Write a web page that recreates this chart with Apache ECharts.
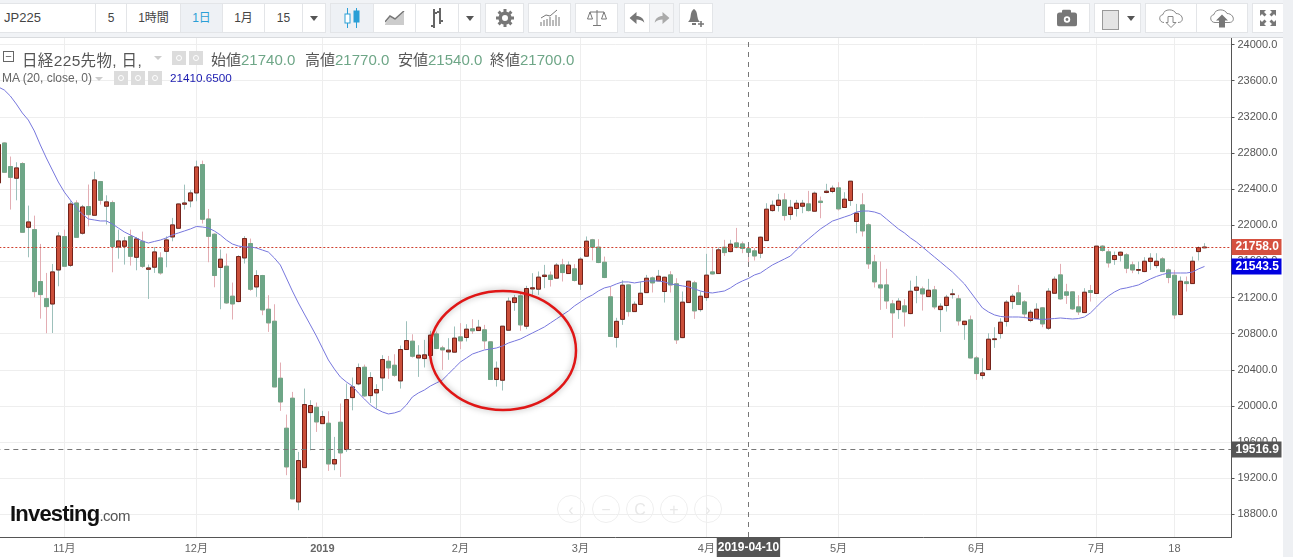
<!DOCTYPE html>
<html>
<head>
<meta charset="utf-8">
<title>日経225先物</title>
<script src="https://cdn.jsdelivr.net/npm/echarts@6/dist/echarts.min.js"></script>
<style>
  html, body { margin: 0; padding: 0; background: #fff; overflow: hidden; }
  body { width: 1293px; height: 557px; position: relative; font-family: 'Liberation Sans', 'Noto Sans CJK JP', sans-serif; color: #555; }
  #main { position: absolute; left: 0; top: 0; width: 1293px; height: 557px; }
  .toolbar { position: absolute; left: 0; top: 0; width: 1293px; height: 37px; background: #f1f3f6; border-bottom: 1px solid #d9dbde; }
  .btn { position: absolute; top: 3px; height: 28px; background: #fff; border: 1px solid #e3e5e8; box-sizing: content-box; text-align: center; line-height: 28px; font-size: 12px; color: #444; margin-left: -1px; }
  .btn.on { background: #eef1f5; }
  .btn svg { position: absolute; left: 50%; top: 50%; transform: translate(-50%, -50%); }
  .caret { display: inline-block; border-left: 4px solid transparent; border-right: 4px solid transparent; border-top: 5px solid #555; vertical-align: middle; }
  .strip { position: absolute; left: 1283px; top: 0; width: 10px; height: 557px; background: #eef0f3; }
  .legend { position: absolute; white-space: nowrap; }
  .legend b { font-weight: normal; color: #6ea687; }
  .ico { position: absolute; width: 14px; height: 14px; background: #dcdcdc; }
  .ico::after { content: ''; position: absolute; left: 4px; top: 4px; width: 4px; height: 4px; border: 1px solid #fff; border-radius: 50%; }
  .logo { position: absolute; left: 10px; top: 501px; font-weight: bold; font-size: 22px; letter-spacing: -0.8px; color: #111; white-space: nowrap; }
  .logo span { font-weight: normal; font-size: 15px; letter-spacing: -0.5px; color: #555; }
  .nav { position: absolute; top: 495px; width: 28px; height: 28px; border: 1px solid #efefef; border-radius: 50%; text-align: center; line-height: 27px; font-size: 16px; color: #e8e8e8; box-sizing: border-box; }
</style>
</head>
<body>
<div id="main"></div>

<div class="toolbar">
  <div class="btn" style="left:0;width:95px;text-align:left;text-indent:4px;font-size:13px">JP225</div>
  <div class="btn" style="left:96px;width:30px">5</div>
  <div class="btn" style="left:127px;width:53px">1時間</div>
  <div class="btn on" style="left:181px;width:41px;color:#2a9fd6">1日</div>
  <div class="btn" style="left:223px;width:41px">1月</div>
  <div class="btn" style="left:265px;width:37px">15</div>
  <div class="btn" style="left:303px;width:22px"><span class="caret"></span></div>

  <div class="btn on" style="left:331px;width:42px"><svg width="18" height="22"><path d="M4.5 1v20M13.5 1v20" stroke="#2a9fd6"/><rect x="2" y="7" width="5" height="9" fill="#fff" stroke="#2a9fd6"/><rect x="11" y="4" width="5" height="11" fill="#2a9fd6" stroke="#2a9fd6"/></svg></div>
  <div class="btn" style="left:374px;width:41px"><svg width="20" height="14"><path d="M0 13L5 6L10 9L19 1V14H0Z" fill="#ccc"/><path d="M0 11L5 5L10 8L19 0" stroke="#777" fill="none" stroke-width="1.5"/></svg></div>
  <div class="btn" style="left:416px;width:42px"><svg width="16" height="22"><path d="M5 2v19M2 19h3M5 6h3M11 1v16M8 5h3M11 14h3" stroke="#666" stroke-width="2" fill="none"/></svg></div>
  <div class="btn" style="left:459px;width:21px"><span class="caret"></span></div>

  <div class="btn" style="left:486px;width:37px"><svg width="18" height="18" viewBox="0 0 18 18"><circle cx="9" cy="9" r="4.8" fill="none" stroke="#777" stroke-width="3.6"/><path d="M9 0v3M9 15v3M0 9h3M15 9h3M2.6 2.6l2.1 2.1M13.3 13.3l2.1 2.1M2.6 15.4l2.1-2.1M13.3 4.7l2.1-2.1" stroke="#777" stroke-width="3"/></svg></div>
  <div class="btn" style="left:529px;width:41px"><svg width="20" height="18"><path d="M1 17v-4M4 17v-6M7 17v-7M10 17v-9M13 17v-6M16 17v-11M19 17v-9" stroke="#777"/><path d="M1 9L6 6L10 7L17 1" stroke="#777" fill="none"/></svg></div>
  <div class="btn" style="left:576px;width:41px"><svg width="20" height="18" fill="none" stroke="#777"><path d="M10 1v15M6 16.5h8M3 3h14M3 3L0.5 10h5ZM17 3l-2.5 7h5Z"/></svg></div>
  <div class="btn" style="left:625px;width:24px"><svg width="15" height="12"><path d="M0 6L7 0V4C11 4 14 6 15 11C13 8 10 7.5 7 7.5V12Z" fill="#777"/></svg></div>
  <div class="btn" style="left:650px;width:23px;background:#f4f5f7"><svg width="15" height="12"><path d="M15 6L8 0V4C4 4 1 6 0 11C2 8 5 7.5 8 7.5V12Z" fill="#aaa"/></svg></div>
  <div class="btn" style="left:680px;width:32px"><svg width="18" height="20"><path d="M7 1C4 3 4 6 3.5 9C3 12 2 13 1 14H13C12 13 11 12 10.5 9C10 6 10 3 7 1Z" fill="#777"/><path d="M5 16h4" stroke="#777" stroke-width="2"/><path d="M14 13v6M11 16h6" stroke="#777" stroke-width="1.6"/></svg></div>

  <div class="btn" style="left:1045px;width:44px"><svg width="20" height="17"><rect x="0" y="3" width="20" height="14" rx="2.5" fill="#777"/><rect x="5" y="0" width="9" height="5" rx="1.5" fill="#777"/><circle cx="10" cy="10" r="3.2" fill="#fff"/><circle cx="10" cy="10" r="1.4" fill="#777"/></svg></div>
  <div class="btn" style="left:1095px;width:45px;text-align:left"><span style="position:absolute;left:7px;top:6px;width:15px;height:18px;background:#e4e4e4;border:1px solid #999"></span><span class="caret" style="position:absolute;left:32px;top:12px"></span></div>
  <div class="btn" style="left:1146px;width:50px"><svg width="28" height="21" fill="none" stroke="#888"><path d="M7 15C2 15 1 8 6 7C7 1 17 1 19 6C26 6 28 15 21 15"/><path d="M11 9h5v6h3l-5 5l-5-5h2Z" fill="#fff"/></svg></div>
  <div class="btn" style="left:1197px;width:50px"><svg width="28" height="21" fill="none" stroke="#888"><path d="M7 15C2 15 1 8 6 7C7 1 17 1 19 6C26 6 28 15 21 15H7"/><path d="M11 20v-7H8l6-6l6 6h-3v7Z" fill="#777" stroke="none"/></svg></div>
  <div class="btn" style="left:1253px;width:30px"><svg width="16" height="16" fill="#777"><path d="M0 0h6l-2 2l2.5 2.5l-2 2L2 4L0 6ZM16 0v6l-2-2l-2.5 2.5l-2-2L12 2L10 0ZM0 16v-6l2 2l2.5-2.5l2 2L4 14l2 2ZM16 16h-6l2-2l-2.5-2.5l2-2L14 12l2-2Z"/></svg></div>
</div>
<div class="strip"></div>

<div class="legend" style="left:3px;top:51px;width:9px;height:9px;border:1px solid #666;text-align:center;line-height:8px;font-size:11px">−</div>
<div class="legend" style="left:22px;top:48px;font-size:15.5px;letter-spacing:.35px">日経225先物, 日,</div>
<div class="legend" style="left:154px;top:56px;border-left:4px solid transparent;border-right:4px solid transparent;border-top:4px solid #ccc"></div>
<div class="ico" style="left:172px;top:51px"></div>
<div class="ico" style="left:189px;top:51px"></div>
<div class="legend" style="left:211px;top:48px;font-size:15px">始値<b>21740.0</b></div>
<div class="legend" style="left:305px;top:48px;font-size:15px">高値<b>21770.0</b></div>
<div class="legend" style="left:398px;top:48px;font-size:15px">安値<b>21540.0</b></div>
<div class="legend" style="left:490px;top:48px;font-size:15px">終値<b>21700.0</b></div>
<div class="legend" style="left:2px;top:71px;font-size:12px;color:#666">MA (20, close, 0)</div>
<div class="legend" style="left:95px;top:77px;border-left:4px solid transparent;border-right:4px solid transparent;border-top:4px solid #ccc"></div>
<div class="ico" style="left:114px;top:71px"></div>
<div class="ico" style="left:131px;top:71px"></div>
<div class="ico" style="left:148px;top:71px"></div>
<div class="legend" style="left:170px;top:71px;font-size:11.7px;color:#1a1ab0">21410.6500</div>

<div class="nav" style="left:557px">‹</div>
<div class="nav" style="left:592px">−</div>
<div class="nav" style="left:626px">C</div>
<div class="nav" style="left:660px">+</div>
<div class="nav" style="left:694px">›</div>
<div class="logo">Investing<span>.com</span></div>

<script>
const opens = [
  22468, 22910, 22649, 22520, 22682, 21977, 21951, 21376, 21187, 21128,
  21505, 21874, 21556, 22246, 21911, 22206, 22110, 22483, 22210, 22250,
  21759, 21767, 21874, 21645, 21822, 21512, 21535, 21638, 21711, 21870,
  21966, 22232, 22269, 22357, 22671, 22069, 21900, 21533, 21546, 21214,
  21155, 21638, 21797, 21317, 21443, 21070, 20937, 20306, 19753, 20085,
  18937, 19317, 19926, 19985, 19804, 19808, 19358, 19819, 19517, 20092,
  20244, 20428, 20114, 20144, 20310, 20494, 20450, 20277, 20624, 20716,
  20531, 20524, 20558, 20797, 20642, 20598, 20595, 20764, 20757, 20853,
  20834, 20842, 20709, 20292, 20284, 20838, 21144, 21218, 20882, 21295,
  21292, 21432, 21447, 21414, 21561, 21465, 21517, 21347, 21657, 21838,
  21757, 21590, 21207, 20758, 20958, 21339, 21044, 21122, 21254, 21417,
  21384, 21266, 21450, 21351, 20756, 21144, 21362, 21066, 21199, 21483,
  21465, 21756, 21708, 21804, 21793, 21740, 21716, 21690, 21830, 22162,
  22218, 22280, 22118, 22185, 22210, 22236, 22155, 22266, 22362, 22373,
  22413, 22196, 22273, 22041, 22225, 22004, 21594, 21339, 21339, 21129,
  21066, 21107, 21022, 21280, 21295, 21210, 21284, 21066, 21111, 21232,
  21185, 20900, 20952, 20531, 20336, 20402, 20734, 20801, 20934, 21155,
  21251, 21151, 20945, 20967, 21085, 20860, 21247, 21450, 21262, 21262,
  21096, 21033, 21277, 21244, 21768, 21705, 21620, 21668, 21672, 21561,
  21501, 21487, 21598, 21553, 21627, 21505, 21446, 21011, 21373, 21354,
  21708, 21750
];
const closes = [
  22892, 22586, 22530, 22634, 21922, 22036, 21265, 21232, 21099, 21483,
  21881, 21546, 22235, 21866, 22202, 22117, 22501, 22276, 22258, 21763,
  21826, 21826, 21656, 21848, 21545, 21527, 21704, 21472, 21837, 22003,
  22235, 22246, 22357, 22645, 22066, 21877, 21443, 21624, 21140, 21129,
  21653, 21852, 21291, 21443, 21063, 20919, 20210, 20044, 19325, 18971,
  19395, 20015, 20004, 19823, 19882, 19358, 19406, 19480, 20070, 20210,
  20424, 20111, 20314, 20181, 20513, 20421, 20339, 20624, 20723, 20550,
  20561, 20565, 20783, 20635, 20620, 20617, 20750, 20720, 20849, 20831,
  20871, 20720, 20292, 20417, 20882, 21159, 21196, 20897, 21299, 21307,
  21425, 21447, 21399, 21558, 21476, 21558, 21388, 21624, 21823, 21757,
  21587, 21421, 20768, 20936, 21336, 21044, 21125, 21247, 21413, 21362,
  21435, 21424, 21339, 20731, 21148, 21380, 21052, 21214, 21447, 21461,
  21727, 21697, 21790, 21756, 21742, 21700, 21660, 21867, 22177, 22221,
  22277, 22107, 22199, 22243, 22243, 22162, 22354, 22251, 22376, 22410,
  22181, 22288, 22487, 22133, 21937, 21572, 21373, 21306, 21162, 21030,
  21159, 21041, 21269, 21314, 21240, 21280, 21096, 21103, 21203, 21240,
  20941, 20937, 20531, 20358, 20365, 20738, 20742, 20926, 21148, 21214,
  21122, 21018, 21037, 21070, 20908, 21269, 21402, 21185, 21225, 21074,
  21041, 21258, 21255, 21768, 21720, 21583, 21664, 21701, 21524, 21505,
  21509, 21601, 21635, 21601, 21487, 21421, 21007, 21380, 21354, 21601,
  21753, 21758
];
const lows = [
  22468, 22586, 22173, 22276, 21922, 21645, 21202, 20966, 20804, 20807,
  21324, 21546, 21538, 21866, 21896, 21988, 22110, 22228, 22007, 21479,
  21630, 21564, 21553, 21501, 21527, 21184, 21472, 21453, 21534, 21822,
  21966, 22173, 22198, 22265, 22018, 21590, 21313, 21070, 21130, 20956,
  21148, 21576, 21273, 21207, 21004, 20819, 20210, 19945, 19233, 18971,
  18845, 19317, 19509, 19712, 19804, 19281, 19288, 19214, 19491, 19951,
  20229, 20100, 20033, 19970, 20166, 20299, 20321, 20192, 20624, 20535,
  20321, 20425, 20546, 20628, 20399, 20510, 20590, 20628, 20713, 20797,
  20830, 20628, 20288, 20214, 20170, 20835, 21052, 20831, 20849, 21229,
  21229, 21303, 21321, 21410, 21377, 21462, 21377, 21284, 21654, 21610,
  21580, 21414, 20765, 20646, 20897, 20989, 21040, 21118, 21250, 21255,
  21380, 21144, 21255, 20686, 20750, 21140, 20963, 21044, 21162, 21455,
  21460, 21660, 21700, 21745, 21690, 21540, 21609, 21635, 21825, 22150,
  22151, 22052, 22059, 22096, 22133, 22151, 22150, 22077, 22354, 22354,
  22162, 22190, 22214, 21911, 21875, 21517, 21310, 21063, 21074, 20753,
  20963, 20878, 21015, 21136, 21055, 21205, 21070, 20819, 21044, 21188,
  20889, 20731, 20528, 20288, 20295, 20398, 20642, 20745, 20878, 21074,
  21118, 20970, 20926, 20960, 20871, 20841, 21243, 21173, 21129, 21063,
  21007, 21030, 21155, 21240, 21708, 21531, 21561, 21598, 21469, 21469,
  21458, 21480, 21505, 21524, 21480, 21358, 20963, 21005, 21266, 21350,
  21609, 21745
];
const highs = [
  22900, 22918, 22760, 22697, 22697, 22217, 22106, 21793, 21472, 21571,
  21922, 21951, 22265, 22276, 22225, 22450, 22593, 22490, 22331, 22272,
  21951, 21870, 21951, 21870, 21929, 21565, 21759, 21700, 21877, 22081,
  22240, 22449, 22387, 22715, 22715, 22180, 21910, 21731, 21686, 21365,
  21667, 21878, 21852, 21502, 21450, 21225, 21125, 20480, 19904, 20155,
  19491, 20192, 20063, 20037, 19945, 19941, 19657, 20026, 20247, 20314,
  20469, 20457, 20373, 20240, 20561, 20553, 20572, 20668, 20937, 20793,
  20672, 20731, 20831, 20823, 20665, 20750, 20879, 20916, 20904, 20960,
  20952, 20897, 20715, 20491, 20885, 21200, 21229, 21240, 21329, 21469,
  21488, 21561, 21488, 21580, 21628, 21600, 21569, 21646, 21875, 21849,
  21845, 21653, 21321, 20975, 21391, 21345, 21155, 21376, 21450, 21432,
  21505, 21430, 21491, 21413, 21266, 21384, 21384, 21266, 21683, 21745,
  21755, 21838, 21838, 21970, 21819, 21770, 21745, 21875, 22243, 22273,
  22347, 22354, 22280, 22280, 22280, 22380, 22372, 22317, 22458, 22439,
  22476, 22365, 22490, 22236, 22354, 22020, 21672, 21598, 21517, 21173,
  21192, 21181, 21387, 21439, 21321, 21406, 21328, 21135, 21229, 21295,
  21229, 20940, 21000, 20553, 20528, 20804, 20871, 20970, 21170, 21240,
  21339, 21170, 21063, 21136, 21095, 21303, 21432, 21572, 21351, 21266,
  21225, 21303, 21339, 21772, 21779, 21734, 21708, 21708, 21690, 21598,
  21598, 21646, 21690, 21690, 21646, 21520, 21505, 21432, 21432, 21653,
  21765, 21801
];
const ma20 = [
  23530, 23496, 23430, 23341, 23242, 23164, 23043, 22888, 22744, 22611,
  22478, 22367, 22279, 22190, 22124, 22069, 22058, 22047, 22047, 22014,
  21969, 21925, 21892, 21859, 21825, 21803, 21820, 21836, 21859, 21892,
  21914, 21936, 21958, 21986, 21980, 21969, 21936, 21892, 21836, 21792,
  21770, 21759, 21759, 21748, 21725, 21703, 21637, 21559, 21416, 21272,
  21139, 21017, 20896, 20774, 20641, 20508, 20408, 20320, 20265, 20220,
  20143, 20077, 20010, 19966, 19933, 19911, 19922, 19944, 20010, 20099,
  20143, 20176, 20220, 20254, 20287, 20353, 20420, 20486, 20530, 20574,
  20597, 20619, 20630, 20641, 20663, 20696, 20718, 20740, 20774, 20807,
  20840, 20874, 20918, 20962, 21007, 21051, 21106, 21150, 21195, 21228,
  21272, 21306, 21322, 21350, 21372, 21372, 21361, 21372, 21383, 21383,
  21383, 21372, 21350, 21339, 21328, 21317, 21295, 21272, 21256, 21250,
  21261, 21272, 21306, 21350, 21383, 21410.65, 21449, 21471, 21516, 21560,
  21593, 21626, 21659, 21726, 21792, 21847, 21903, 21958, 22002, 22046,
  22068, 22091, 22113, 22146, 22157, 22157, 22146, 22124, 22069, 22013,
  21958, 21914, 21859, 21814, 21759, 21703, 21648, 21593, 21537, 21482,
  21416, 21350, 21261, 21172, 21084, 21040, 21007, 20990, 20984, 20984,
  20984, 20979, 20967, 20962, 20956, 20962, 20967, 20973, 20967, 20962,
  20967, 20984, 21029, 21095, 21162, 21217, 21261, 21294, 21306, 21322,
  21339, 21372, 21405, 21433, 21455, 21471, 21471, 21471, 21471, 21482,
  21516, 21543.5
];
const priceTicks = [18800, 19200, 19600, 20000, 20400, 20800, 21200, 21600, 22000, 22400, 22800, 23200, 23600, 24000];
const monthIndex = [11, 33, 54, 77, 97, 118, 140, 163, 183, 196];
const monthText = ['11月', '12月', '2019', '2月', '3月', '4月', '5月', '6月', '7月', '18'];
const crossIndex = 125;
const crossDate = '2019-04-10';
const crossPrice = 19516.9;
const lastPrice = 21758.0;
const lastMa = 21543.5;

// a few empty slots on the right, the real chart leaves room after the last bar
const categories = Array.from({ length: 206 }, (_, i) => String(i));

const wickData = opens.map((o, i) => [o, closes[i], lows[i], highs[i]]);
// body only: low/high flattened so the wick comes from the series below
const bodyData = opens.map((o, i) => [o, closes[i], Math.min(o, closes[i]), Math.max(o, closes[i])]);

const showMonth = i => monthIndex.indexOf(i) >= 0;

function tagLine(value, bg, lineStyle) {
  return {
    yAxis: value,
    lineStyle: lineStyle,
    label: { show: true, position: 'end', distance: 0, formatter: value.toFixed(1), color: '#fff', fontWeight: 'bold', fontSize: 12, backgroundColor: bg, padding: [2, 4, 2, 4], width: 42, align: 'left' }
  };
}

let myChart = echarts.init(document.getElementById('main'), null, { renderer: 'canvas' });
let option = {
  animation: false,
  backgroundColor: '#fff',
  textStyle: { fontFamily: "'Liberation Sans', 'Noto Sans CJK JP', sans-serif" },
  grid: { left: -4.67, right: 61.5, top: 38, height: 499, outerBoundsMode: 'none' },
  xAxis: {
    type: 'category',
    data: categories,
    axisLine: { lineStyle: { color: '#555' } },
    axisTick: { show: false },
    splitLine: { show: true, interval: i => showMonth(i), alignWithLabel: true, lineStyle: { color: '#eeeeee' } },
    axisLabel: {
      interval: i => showMonth(i),
      margin: 6,
      fontSize: 11,
      color: '#666',
      formatter: (v, i) => {
        let text = monthText[monthIndex.indexOf(i)] || '';
        return text === '2019' ? '{year|' + text + '}' : text;
      },
      rich: { year: { fontSize: 11, fontWeight: 'bold', color: '#666' } }
    }
  },
  yAxis: {
    type: 'value',
    position: 'right',
    min: 18549,
    max: 24072,
    axisLine: { show: true, lineStyle: { color: '#555' } },
    axisTick: { show: true, length: 3, customValues: priceTicks, lineStyle: { color: '#555' } },
    splitLine: { show: true, customValues: priceTicks, lineStyle: { color: '#eeeeee' } },
    axisLabel: { customValues: priceTicks, margin: 6, fontSize: 11, color: '#555', padding: [2, 0, 0, 0], formatter: v => v.toFixed(1) }
  },
  series: [
    {
      name: 'wick',
      type: 'candlestick',
      barWidth: 5,
      data: wickData,
      itemStyle: { color: '#9dc0bb', color0: '#e3adb3', borderColor: '#9dc0bb', borderColor0: '#e3adb3', borderWidth: 1 },
      markLine: {
        silent: true,
        symbol: 'none',
        animation: false,
        data: [
          tagLine(lastPrice, '#d5503f', { color: '#d0402f', type: [2, 2], width: 1 }),
          tagLine(lastMa, '#0000e0', { color: 'transparent' }),
          tagLine(crossPrice, '#555', { color: '#777', type: [5, 4], width: 1 }),
          {
            xAxis: crossIndex,
            lineStyle: { color: '#777', type: [5, 5], width: 1 },
            label: { show: true, position: 'start', distance: 0, formatter: crossDate, color: '#fff', fontWeight: 'bold', fontSize: 12, backgroundColor: '#555', padding: [5, 1, 4, 1] }
          }
        ]
      }
    },
    {
      name: 'body',
      type: 'candlestick',
      barWidth: 5,
      data: bodyData,
      itemStyle: { color: '#cb4f3a', color0: '#6ea687', borderColor: '#74221a', borderColor0: '#6ea687', borderWidth: 1 }
    },
    {
      name: 'MA',
      type: 'line',
      data: ma20,
      symbol: 'none',
      lineStyle: { color: '#7777dd', width: 1 },
      z: 5
    }
  ],
  graphic: [
    {
      type: 'ellipse',
      shape: { cx: 503, cy: 350.5, rx: 73, ry: 59.5 },
      style: { fill: 'none', stroke: '#e01616', lineWidth: 2.5, shadowBlur: 6, shadowColor: 'rgba(0,0,0,0.35)' },
      z: 100
    }
  ]
};
myChart.setOption(option);
</script>
</body>
</html>
